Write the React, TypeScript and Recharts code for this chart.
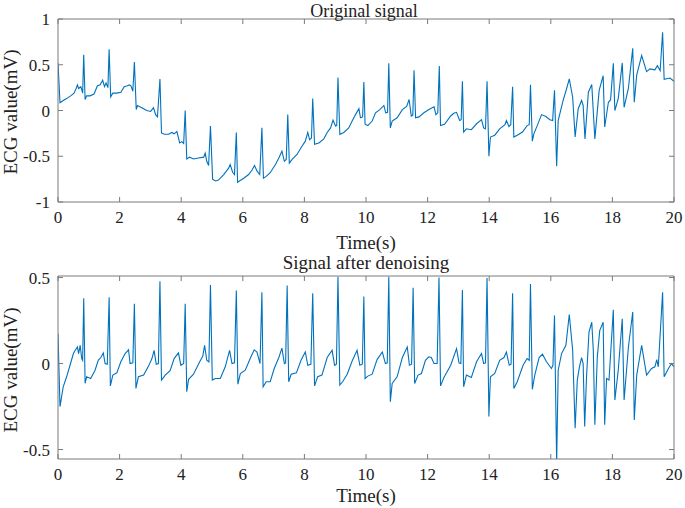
import { LineChart, Line, XAxis, YAxis } from "recharts";

// ticks
const timeTicks = [0, 2, 4, 6, 8, 10, 12, 14, 16, 18, 20];
const originalTicks = [-1, -0.5, 0, 0.5, 1];
const denoisedTicks = [-0.5, 0, 0.5];

// [time (s), value (mV)]
const originalSignal: [number, number][] = [
  [0, 0.52], [0.065, 0.084], [0.17, 0.11], [0.28, 0.13], [0.41, 0.16], [0.52, 0.19], [0.59, 0.24],
  [0.63, 0.28], [0.67, 0.24], [0.74, 0.26], [0.77, 0.23], [0.8, 0.19], [0.835, 0.61], [0.88, 0.12],
  [0.93, 0.16], [1.04, 0.16], [1.17, 0.18], [1.28, 0.27], [1.37, 0.28], [1.45, 0.33], [1.51, 0.26],
  [1.56, 0.3], [1.62, 0.25], [1.66, 0.67], [1.71, 0.15], [1.78, 0.19], [1.91, 0.19], [2.04, 0.2],
  [2.15, 0.26], [2.25, 0.27], [2.32, 0.28], [2.37, 0.27], [2.43, 0.21], [2.48, 0.53], [2.54, 0.01],
  [2.58, 0.055], [2.72, 0.03], [2.88, 0.0], [3.01, -0.01], [3.1, 0.03], [3.17, -0.045], [3.23, -0.07],
  [3.31, 0.345], [3.36, -0.245], [3.45, -0.26], [3.59, -0.26], [3.7, -0.24], [3.77, -0.255],
  [3.86, -0.23], [3.95, -0.355], [4.02, -0.34], [4.08, -0.36], [4.13, 0.0], [4.18, -0.53],
  [4.27, -0.51], [4.4, -0.53], [4.56, -0.52], [4.73, -0.51], [4.78, -0.465], [4.83, -0.555],
  [4.89, -0.6], [4.95, -0.17], [5.02, -0.75], [5.11, -0.77], [5.21, -0.76], [5.38, -0.7],
  [5.54, -0.63], [5.59, -0.59], [5.67, -0.675], [5.73, -0.7], [5.79, -0.24], [5.83, -0.785],
  [6.03, -0.74], [6.19, -0.7], [6.3, -0.65], [6.38, -0.6], [6.46, -0.66], [6.55, -0.7], [6.62, -0.19],
  [6.67, -0.74], [6.76, -0.72], [6.89, -0.68], [7.06, -0.59], [7.17, -0.52], [7.27, -0.445],
  [7.35, -0.555], [7.41, -0.535], [7.46, -0.045], [7.51, -0.575], [7.6, -0.535], [7.76, -0.48],
  [7.92, -0.39], [8.03, -0.335], [8.11, -0.24], [8.17, -0.32], [8.23, -0.3], [8.27, 0.13],
  [8.33, -0.37], [8.47, -0.355], [8.63, -0.31], [8.74, -0.24], [8.85, -0.19], [8.93, -0.105],
  [9.01, -0.17], [9.05, -0.165], [9.09, 0.36], [9.15, -0.26], [9.28, -0.24], [9.44, -0.19],
  [9.55, -0.115], [9.66, -0.045], [9.77, 0.02], [9.82, -0.08], [9.89, -0.07], [9.93, 0.31],
  [9.97, -0.15], [10.06, -0.165], [10.2, -0.115], [10.31, -0.025], [10.45, 0.01], [10.58, 0.055],
  [10.64, -0.025], [10.7, -0.02], [10.74, 0.515], [10.79, -0.19], [10.85, -0.115], [11.01, -0.08],
  [11.18, 0.01], [11.32, 0.045], [11.4, 0.12], [11.47, -0.06], [11.52, -0.05], [11.56, 0.44],
  [11.61, -0.08], [11.72, -0.07], [11.88, -0.025], [12.04, 0.01], [12.21, 0.04], [12.27, -0.045],
  [12.33, -0.025], [12.38, 0.485], [12.42, -0.165], [12.55, -0.15], [12.75, -0.06], [12.85, -0.03],
  [12.94, -0.02], [13.04, -0.11], [13.09, -0.1], [13.13, 0.32], [13.17, -0.235], [13.26, -0.2],
  [13.42, -0.21], [13.59, -0.145], [13.75, -0.1], [13.82, -0.19], [13.88, -0.2], [13.93, 0.32],
  [13.99, -0.5], [14.04, -0.29], [14.18, -0.27], [14.34, -0.2], [14.51, -0.155], [14.56, -0.11],
  [14.64, -0.175], [14.7, -0.155], [14.76, 0.26], [14.8, -0.29], [14.91, -0.27], [15.08, -0.235],
  [15.23, -0.165], [15.3, -0.155], [15.34, 0.28], [15.4, -0.335], [15.45, -0.255], [15.56, -0.165],
  [15.7, -0.045], [15.84, -0.065], [15.97, -0.1], [16.06, -0.11], [16.12, 0.22], [16.19, -0.61],
  [16.24, -0.11], [16.4, 0.11], [16.51, 0.235], [16.6, 0.345], [16.71, 0.145], [16.79, -0.29],
  [16.89, 0.02], [17.0, 0.11], [17.05, 0.055], [17.11, -0.31], [17.22, 0.2], [17.33, 0.285],
  [17.43, -0.31], [17.57, 0.22], [17.7, 0.38], [17.75, -0.18], [17.87, 0.09], [17.94, 0.115],
  [18.03, 0.515], [18.08, 0.0], [18.19, 0.13], [18.32, 0.52], [18.38, 0.035], [18.52, 0.245],
  [18.66, 0.68], [18.71, 0.09], [18.79, 0.39], [18.95, 0.6], [19.11, 0.425], [19.22, 0.455],
  [19.38, 0.445], [19.46, 0.49], [19.55, 0.435], [19.63, 0.855], [19.68, 0.34], [19.87, 0.355],
  [20.0, 0.32],
];

const denoisedSignal: [number, number][] = [
  [0, 0.173], [0.065, -0.25], [0.17, -0.135], [0.28, -0.077], [0.39, -0.01], [0.5, 0.058],
  [0.56, 0.077], [0.63, 0.096], [0.67, 0.058], [0.72, 0.106], [0.77, 0.029], [0.8, 0.019],
  [0.835, 0.38], [0.88, -0.115], [0.93, -0.077], [1.06, -0.087], [1.2, -0.04], [1.31, 0.02],
  [1.39, 0.035], [1.47, 0.062], [1.53, 0.0], [1.6, -0.004], [1.66, 0.385], [1.7, -0.13],
  [1.78, -0.067], [1.91, -0.054], [2.04, 0.01], [2.18, 0.058], [2.29, 0.08], [2.34, 0.0],
  [2.43, 0.004], [2.48, 0.347], [2.53, -0.145], [2.61, -0.077], [2.78, -0.067], [2.94, -0.015],
  [3.05, 0.029], [3.12, 0.077], [3.19, -0.004], [3.26, 0.0], [3.31, 0.478], [3.36, -0.096],
  [3.48, -0.067], [3.64, -0.042], [3.77, 0.029], [3.91, 0.062], [3.99, -0.01], [4.08, 0.0],
  [4.13, 0.347], [4.18, -0.164], [4.24, -0.092], [4.4, -0.062], [4.6, 0.01], [4.7, 0.042],
  [4.76, 0.106], [4.83, 0.019], [4.9, 0.01], [4.95, 0.456], [5.01, -0.096], [5.11, -0.087],
  [5.27, -0.087], [5.43, -0.019], [5.57, 0.077], [5.65, 0.0], [5.73, 0.004], [5.79, 0.424],
  [5.84, -0.12], [5.92, -0.058], [6.08, -0.039], [6.24, 0.029], [6.37, 0.08], [6.46, 0.067],
  [6.56, 0.0], [6.62, 0.414], [6.66, -0.135], [6.76, -0.106], [6.89, -0.106], [7.02, -0.029],
  [7.17, 0.035], [7.27, 0.09], [7.35, 0.0], [7.39, 0.004], [7.44, 0.453], [7.49, -0.106],
  [7.57, -0.062], [7.74, -0.054], [7.89, 0.019], [8.03, 0.067], [8.11, -0.01], [8.21, -0.004],
  [8.27, 0.408], [8.33, -0.13], [8.43, -0.077], [8.57, -0.067], [8.74, 0.035], [8.9, 0.077],
  [8.98, -0.01], [9.04, -0.004], [9.09, 0.505], [9.15, -0.125], [9.24, -0.106], [9.39, -0.062],
  [9.55, 0.015], [9.71, 0.077], [9.8, -0.01], [9.88, -0.004], [9.93, 0.39], [9.97, -0.087],
  [10.06, -0.073], [10.2, -0.062], [10.36, 0.023], [10.53, 0.067], [10.63, 0.0], [10.69, 0.004],
  [10.74, 0.505], [10.79, -0.222], [10.85, -0.116], [11.01, -0.077], [11.18, 0.035], [11.34, 0.096],
  [11.41, -0.01], [11.48, -0.004], [11.53, 0.44], [11.58, -0.116], [11.69, -0.067], [11.8, -0.058],
  [11.93, 0.019], [12.04, 0.039], [12.12, 0.035], [12.21, 0.0], [12.31, 0.0], [12.37, 0.5],
  [12.42, -0.13], [12.53, -0.081], [12.75, -0.01], [12.94, 0.087], [13.02, 0.004], [13.08, 0.0],
  [13.13, 0.428], [13.17, -0.135], [13.26, -0.067], [13.42, -0.081], [13.59, 0.01], [13.75, 0.058],
  [13.82, 0.0], [13.88, 0.004], [13.93, 0.497], [13.99, -0.308], [14.04, -0.077], [14.18, -0.058],
  [14.34, 0.019], [14.48, 0.035], [14.56, 0.067], [14.65, -0.01], [14.71, -0.004], [14.76, 0.408],
  [14.8, -0.145], [14.91, -0.106], [15.1, -0.01], [15.23, 0.029], [15.3, 0.019], [15.34, 0.462],
  [15.4, -0.15], [15.48, -0.067], [15.62, 0.035], [15.73, 0.054], [15.86, 0.01], [16.02, -0.029],
  [16.07, -0.01], [16.12, 0.28], [16.19, -0.58], [16.24, -0.039], [16.35, 0.058], [16.49, 0.106],
  [16.6, 0.285], [16.71, 0.077], [16.79, -0.376], [16.86, -0.096], [16.93, -0.019], [17.0, 0.035],
  [17.05, 0.0], [17.1, -0.366], [17.16, -0.077], [17.24, 0.183], [17.33, 0.24], [17.38, 0.077],
  [17.43, -0.356], [17.51, 0.039], [17.59, 0.193], [17.7, 0.24], [17.75, -0.356], [17.81, -0.087],
  [17.89, -0.096], [18.03, 0.312], [18.08, -0.212], [18.19, -0.039], [18.32, 0.26], [18.38, -0.212],
  [18.52, 0.096], [18.66, 0.3], [18.71, -0.328], [18.79, -0.067], [18.95, 0.106], [19.11, -0.067],
  [19.27, -0.029], [19.38, -0.019], [19.44, 0.023], [19.49, -0.019], [19.63, 0.414], [19.68, -0.077],
  [19.82, -0.029], [19.92, 0.0], [20.0, -0.019],
];

const FONT = '"Liberation Serif", "Times New Roman", serif';
const AXIS = "#7a7a7a";
const INK = "#222";
const LINE = "#0072BD";
const TICK_LEN = 5;

// MATLAB-style inward ticks: tickSize/tickMargin are 0 so x,y sit on the axis line
const BottomTick = (props: any) => {
  const { x, y, payload } = props;
  return (
    <g>
      <line x1={x} y1={y} x2={x} y2={y - TICK_LEN} stroke={AXIS} />
      <text x={x} y={y + 21} textAnchor="middle" fontFamily={FONT} fontSize={17} fill={INK}>
        {payload.value}
      </text>
    </g>
  );
};
const TopTick = (props: any) => {
  const { x, y } = props;
  return <line x1={x} y1={y} x2={x} y2={y + TICK_LEN} stroke={AXIS} />;
};
const LeftTick = (props: any) => {
  const { x, y, payload } = props;
  return (
    <g>
      <line x1={x} y1={y} x2={x + TICK_LEN} y2={y} stroke={AXIS} />
      <text x={x - 8} y={y + 6} textAnchor="end" fontFamily={FONT} fontSize={17} fill={INK}>
        {payload.value}
      </text>
    </g>
  );
};
const RightTick = (props: any) => {
  const { x, y } = props;
  return <line x1={x} y1={y} x2={x - TICK_LEN} y2={y} stroke={AXIS} />;
};

function Panel({ signal, yDomain, yTicks, height, marginTop, marginBottom }: any) {
  const rows = signal.map(([t, v]: [number, number]) => ({ t, v }));
  return (
    <LineChart
      width={685}
      height={height}
      data={rows}
      margin={{ top: marginTop, right: 10, bottom: marginBottom, left: 8 }}
    >
      <XAxis
        dataKey="t" type="number" domain={[0, 20]} ticks={timeTicks} allowDataOverflow
        height={40} tickSize={0} tickMargin={0} tickLine={false}
        axisLine={{ stroke: AXIS }} tick={<BottomTick />} interval={0}
      />
      <XAxis
        xAxisId="top" orientation="top" dataKey="t" type="number" domain={[0, 20]} ticks={timeTicks}
        allowDataOverflow height={1} tickSize={0} tickMargin={0} tickLine={false}
        axisLine={{ stroke: AXIS }} tick={<TopTick />} interval={0}
      />
      <YAxis
        type="number" domain={yDomain} ticks={yTicks} allowDataOverflow width={50}
        tickSize={0} tickMargin={0} tickLine={false} axisLine={{ stroke: AXIS }}
        tick={<LeftTick />} interval={0}
      />
      <YAxis
        yAxisId="right" orientation="right" type="number" domain={yDomain} ticks={yTicks}
        allowDataOverflow width={1} tickSize={0} tickMargin={0} tickLine={false}
        axisLine={{ stroke: AXIS }} tick={<RightTick />} interval={0}
      />
      <Line
        dataKey="v" type="linear" stroke={LINE} strokeWidth={1.1} dot={false}
        isAnimationActive={false}
      />
    </LineChart>
  );
}

export default function App() {
  const txt = { fontFamily: FONT, fontSize: 19, fill: INK };
  return (
    <div style={{ position: "absolute", left: 0, top: 0, width: 685, height: 508, background: "#fff" }}>
      <div style={{ position: "absolute", left: 0, top: 0 }}>
        <Panel signal={originalSignal} yDomain={[-1, 1]} yTicks={originalTicks}
          height={250} marginTop={18} marginBottom={8} />
      </div>
      <div style={{ position: "absolute", left: 0, top: 250 }}>
        <Panel signal={denoisedSignal} yDomain={[-0.555, 0.509]} yTicks={denoisedTicks}
          height={258} marginTop={25} marginBottom={9} />
      </div>
      <svg width={685} height={508} style={{ position: "absolute", left: 0, top: 0, pointerEvents: "none" }}>
        <text x={364} y={16.5} textAnchor="middle" {...txt} fontSize={18}>Original signal</text>
        <text x={366} y={249} textAnchor="middle" {...txt}>Time(s)</text>
        <text x={17} y={112} textAnchor="middle" transform="rotate(-90, 17, 112)" {...txt}>ECG value(mV)</text>
        <text x={366} y={269} textAnchor="middle" {...txt}>Signal after denoising</text>
        <text x={366} y={502} textAnchor="middle" {...txt}>Time(s)</text>
        <text x={17} y={370} textAnchor="middle" transform="rotate(-90, 17, 370)" {...txt}>ECG value(mV)</text>
      </svg>
    </div>
  );
}
